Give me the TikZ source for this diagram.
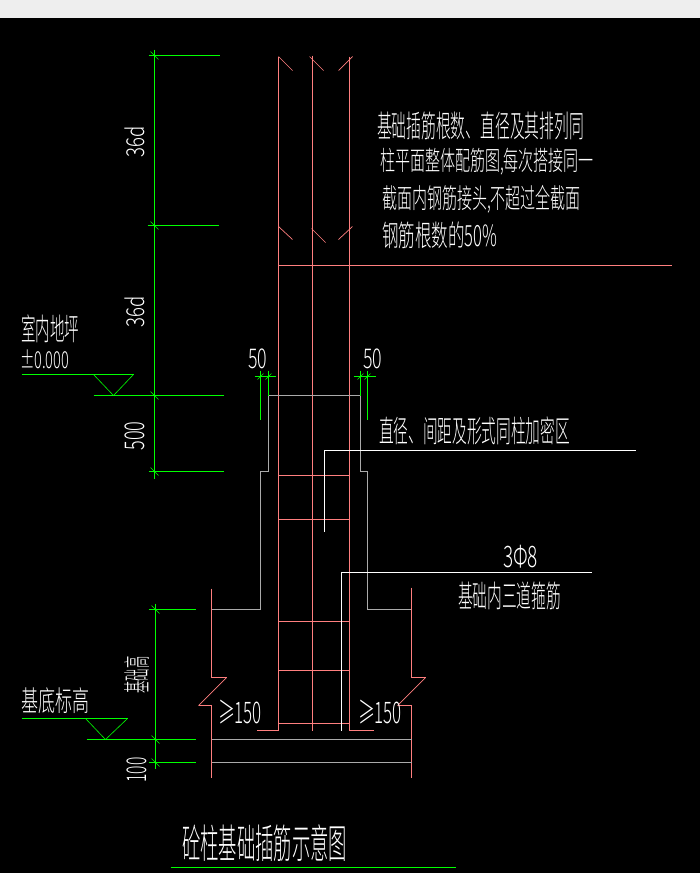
\documentclass[tikz,border=0pt]{standalone}
\usepackage{graphicx}
\usepackage{fontspec}
\newfontfamily\cadfont{Noto Sans CJK SC Light}
\definecolor{cadgreen}{RGB}{0,255,0}
\definecolor{cadred}{RGB}{255,127,127}
\definecolor{cadgray}{RGB}{170,170,170}
\definecolor{cadband}{RGB}{238,238,238}
\newcommand{\cadtext}[3]{\resizebox*{#1pt}{#2pt}{\cadfont #3}}
\tikzset{
  dimline/.style={cadgreen,line width=1pt},
  thinmark/.style={cadgreen,line width=0.6pt},
  barline/.style={cadred,line width=1pt},
  slantline/.style={cadred,line width=0.7pt},
  wallline/.style={cadgray,line width=1pt},
  leaderline/.style={white,line width=1pt},
  cadlabel/.style={white,inner sep=0,outer sep=0}
}
\begin{document}
\begin{tikzpicture}[x=1pt,y=-1pt]
\useasboundingbox (0,0) rectangle (700,873);
\fill[black] (0,0) rectangle (700,873);
\fill[cadband] (0,0) rectangle (700,18);
\begin{scope}[xshift=0.5pt,yshift=-0.5pt]
% column bars
\draw[barline] (278,56)--(278,730)--(256,730);
\draw[barline] (312,55)--(312,730);
\draw[barline] (349,56)--(349,730)--(373,730);
\draw[slantline] (278,56)--(292,70);
\draw[slantline] (309,56)--(323,70);
\draw[slantline] (352,56)--(338,70);
\draw[slantline] (278,226)--(292,239);
\draw[slantline] (311,228)--(325,242);
\draw[slantline] (352,226)--(338,239);
\draw[barline] (278,265)--(671,265);
% stirrups
\foreach \ypos in {475,519,621,670,723}
  \draw[barline] (278,\ypos)--(349,\ypos);
% column and footing outline
\draw[wallline] (211,609)--(260,609)--(260,471)--(268,471)--(268,395)--(360,395)--(360,471)--(367,471)--(367,609)--(411,609);
\draw[barline] (211,588)--(211,677)--(226,677);
\draw[slantline] (226,677)--(198,705);
\draw[barline] (198,705)--(211,705)--(211,777);
\draw[barline] (411,587)--(411,677)--(425,677);
\draw[slantline] (425,677)--(397,705);
\draw[barline] (397,705)--(411,705)--(411,777);
\draw[wallline] (211,739)--(411,739);
\draw[wallline] (211,762)--(411,762);
% leaders
\draw[leaderline] (635,450)--(324,450)--(324,531);
\draw[leaderline] (591,572)--(341,572)--(341,730);
% dimensions on the left
\draw[dimline] (154,49)--(154,478);
\draw[dimline] (155,603)--(155,768);
\draw[dimline] (148,55)--(219,55);
\draw[dimline] (147,225)--(218,225);
\draw[dimline] (93,395)--(223,395);
\draw[dimline] (148,471)--(223,471);
\draw[dimline] (148,609)--(195,609);
\draw[dimline] (86,739)--(195,739);
\draw[dimline] (148,762)--(195,762);
\foreach \xpos/\ypos in {154/55,154/225,154/395,154/471,155/609,155/739,155/762}
  \draw[thinmark] (\xpos-4,\ypos-4)--(\xpos+4,\ypos+4);
% level marks
\draw[dimline] (21,374)--(133,374);
\draw[thinmark] (133,374)--(113,395)--(93,374);
\draw[dimline] (21,718)--(127,718);
\draw[thinmark] (127,718)--(105,739)--(85,718);
% 50 dimensions
\draw[dimline] (260,370)--(260,419);
\draw[dimline] (268,370)--(268,395);
\draw[dimline] (254,376)--(275,376);
\draw[dimline] (360,370)--(360,395);
\draw[dimline] (367,370)--(367,419);
\draw[dimline] (353,376)--(375,376);
\foreach \xpos in {260,268,360,367}
  \draw[thinmark] (\xpos-3,379)--(\xpos+3,373);
\draw[dimline] (170,867)--(455,867);
\end{scope}
% texts
\node[cadlabel,anchor=north west] (notea) at (377,112) {\cadtext{207}{28}{基础插筋根数、直径及其排列同}};
\node[cadlabel,anchor=north west] (noteb) at (380,148) {\cadtext{214}{27}{柱平面整体配筋图,每次搭接同一}};
\node[cadlabel,anchor=north west] (notec) at (382,185) {\cadtext{199}{28}{截面内钢筋接头,不超过全截面}};
\node[cadlabel,anchor=north west] (noted) at (382,222) {\cadtext{115}{27}{钢筋根数的50\%}};
\node[cadlabel,anchor=north west] (floor) at (21,315) {\cadtext{58}{28}{室内地坪}};
\node[cadlabel,anchor=north west] (zero) at (20,350) {\cadtext{49}{19}{±0.000}};
\node[cadlabel,anchor=north west] (spacing) at (379,417) {\cadtext{191}{28}{直径、间距及形式同柱加密区}};
\node[cadlabel,anchor=north west] (threebar) at (503,545) {\cadtext{35}{23}{3Φ8}};
\node[cadlabel,anchor=north west] (threenote) at (458,582) {\cadtext{103}{28}{基础内三道箍筋}};
\node[cadlabel,anchor=north west] (basea) at (21,688) {\cadtext{68}{26}{基底标高}};
\node[cadlabel,anchor=north west] (fifa) at (248,349) {\cadtext{19}{20}{50}};
\node[cadlabel,anchor=north west] (fifb) at (363,349) {\cadtext{19}{20}{50}};
\node[cadlabel,anchor=north west] (geqa) at (218,700) {\cadtext{44}{24}{≥150}};
\node[cadlabel,anchor=north west] (geqb) at (358,700) {\cadtext{44}{24}{≥150}};
\node[cadlabel,anchor=north west] (title) at (182,825) {\cadtext{165}{37}{砼柱基础插筋示意图}};
\node[cadlabel,rotate=90] (dima) at (135,141.5) {\cadtext{31}{20}{36d}};
\node[cadlabel,rotate=90] (dimb) at (135,311.5) {\cadtext{31}{20}{36d}};
\node[cadlabel,rotate=90] (dimc) at (135,436) {\cadtext{29}{20}{500}};
\node[cadlabel,rotate=90] (dimd) at (137,675) {\cadtext{37}{25}{基础高}};
\node[cadlabel,rotate=90] (dime) at (137,770) {\cadtext{25}{20}{100}};
\end{tikzpicture}
\end{document}
